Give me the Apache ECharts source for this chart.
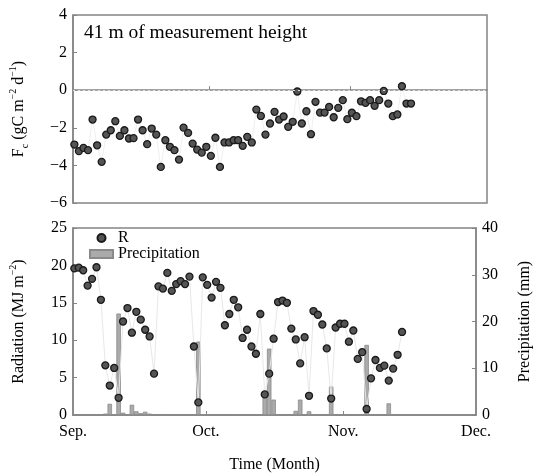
<!DOCTYPE html>
<html>
<head>
<meta charset="UTF-8">
<title>Fc, radiation and precipitation</title>
<script src="https://cdn.jsdelivr.net/npm/echarts@6/dist/echarts.min.js"></script>
<style>
  html, body { margin: 0; padding: 0; background: #fff; }
  #main { width: 541px; height: 474px; }
</style>
</head>
<body>
<div id="main"></div>
<script>
// month ticks, days counted from 1 Sep
var monthTicks = [0, 30, 61, 91];
var monthNames = ['Sep.', 'Oct.', 'Nov.', 'Dec.'];
var dayOffset = 0.3; // daily values plotted near mid-day

// CO2 flux Fc (gC m-2 d-1), daily from 1 Sep
var fc = [-2.89, -3.24, -3.07, -3.19, -1.56, -2.93, -3.81, -2.36, -2.13, -1.65,
          -2.43, -2.13, -2.57, -2.55, -1.56, -2.13, -2.87, -2.04, -2.36, -4.08,
          -2.66, -3.01, -3.19, -3.69, -1.99, -2.27, -2.84, -3.16, -3.32, -3.01,
          -3.49, -2.53, -4.08, -2.78, -2.78, -2.66, -2.66, -2.96, -2.48, -2.78,
          -1.03, -1.37, -2.36, -1.77, -1.15, -1.56, -1.40, -1.95, -1.68, -0.07,
          -1.77, -1.12, -2.34, -0.62, -1.19, -1.19, -0.89, -1.44, -0.94, -0.53,
          -1.54, -1.20, -1.38, -0.59, -0.67, -0.53, -0.83, -0.53, -0.04, -0.71,
          -1.38, -1.29, 0.21, -0.71, -0.71];

// radiation R (MJ m-2)
var radiation = [19.6, 19.7, 19.35, 17.3, 18.2, 19.75, 15.4, 6.64, 3.94, 6.29,
                 2.3, 12.5, 14.3, 11.0, 13.8, 12.75, 11.4, 10.5, 5.53, 17.2,
                 16.9, 19.0, 16.6, 17.5, 17.9, 17.5, 18.5, 9.16, 1.68, 18.4,
                 17.4, 15.7, 17.8, 17.0, 12.0, 13.5, 15.4, 14.4, 10.3, 11.4,
                 9.16, 8.19, 13.5, 2.75, 5.53, 10.2, 15.1, 15.3, 15.0, 11.55,
                 10.1, 6.9, 10.4, 2.57, 13.9, 13.4, 12.1, 8.9, 2.2, 11.7,
                 12.2, 12.2, 9.8, 11.3, 7.5, 8.4, 0.8, 4.9, 7.35, 6.3,
                 6.6, 4.6, 6.2, 8.05, 11.1];

// precipitation (mm)
var precip = [0, 0, 0, 0, 0, 0, 0, 0.3, 2.4, 0,
              21.7, 0.5, 0, 2.2, 0.8, 0.4, 0.7, 0.3, 0, 0,
              0.2, 0.15, 0, 0, 0, 0.15, 0, 0, 15.7, 0,
              0, 0, 0, 0, 0, 0, 0, 0, 0, 0,
              0, 0, 0, 4.0, 14.2, 3.3, 0, 0, 0, 0,
              0.9, 3.3, 0, 0.8, 0, 0, 0, 0, 6.1, 0,
              0, 0, 0, 0, 0, 0.2, 15.0, 0, 0, 0,
              0, 2.5, 0, 0, 0];

function toXY(arr) {
    var out = [];
    for (var i = 0; i < arr.length; i++) {
        out.push([i + dayOffset, arr[i]]);
    }
    return out;
}

var serif = 'Liberation Serif';
var axisGrey = '#858585';
var dotStyle = { color: '#555555', borderColor: '#1a1a1a', borderWidth: 1.3 };
var zeroLine = { color: '#dedede', type: [2, 3], width: 1 };
var richName = {
    sup: { fontSize: 10, fontFamily: serif, verticalAlign: 'top', lineHeight: 22 },
    sub: { fontSize: 10, fontFamily: serif, verticalAlign: 'bottom', lineHeight: 22 }
};

function monthLabel(v) {
    var k = monthTicks.indexOf(v);
    return k >= 0 ? monthNames[k] : '';
}

var myChart = echarts.init(document.getElementById('main'));

myChart.setOption({
    animation: false,
    backgroundColor: '#fff',
    textStyle: { fontFamily: serif },
    title: {
        text: '41 m of measurement height',
        left: 79, top: 18,
        textStyle: { fontFamily: serif, fontSize: 19.5, fontWeight: 'normal', color: '#000' }
    },
    legend: {
        data: [{ name: 'R', icon: 'circle' }, { name: 'Precipitation', icon: 'rect' }],
        orient: 'vertical',
        left: 89, top: 230,
        itemWidth: 23, itemHeight: 8, itemGap: 0,
        padding: 0,
        textStyle: { fontFamily: serif, fontSize: 16, color: '#000' }
    },
    grid: [
        { left: 72, right: 54, top: 15, height: 188, show: true, borderColor: axisGrey, borderWidth: 1.5 },
        { left: 72, right: 54, top: 228, height: 188, show: true, borderColor: axisGrey, borderWidth: 1.5 }
    ],
    xAxis: [
        {
            gridIndex: 0, type: 'value', min: 0, max: 91,
            axisLine: { lineStyle: { color: axisGrey, width: 1.5 } },
            axisTick: { inside: true, length: 4, customValues: [30, 61], lineStyle: { color: axisGrey } },
            axisLabel: { show: false },
            splitLine: { show: false }
        },
        {
            gridIndex: 1, type: 'value', min: 0, max: 91,
            name: 'Time (Month)', nameLocation: 'middle', nameGap: 42,
            nameTextStyle: { fontFamily: serif, fontSize: 16, color: '#000' },
            axisLine: { lineStyle: { color: axisGrey, width: 1.5 } },
            axisTick: { inside: true, length: 4, customValues: [30, 61], lineStyle: { color: axisGrey } },
            axisLabel: {
                customValues: monthTicks, formatter: monthLabel,
                fontFamily: serif, fontSize: 16, color: '#000', margin: 9
            },
            splitLine: { show: false }
        }
    ],
    yAxis: [
        {
            gridIndex: 0, type: 'value', min: -6, max: 4, interval: 2,
            name: 'F{sub|c} (gC m{sup|\u22122} d{sup|\u22121})',
            nameLocation: 'middle', nameGap: 43, nameRotate: 90,
            nameTextStyle: { fontFamily: serif, fontSize: 16, color: '#000', lineHeight: 22, rich: richName },
            axisLine: { lineStyle: { color: axisGrey, width: 1.5 } },
            axisTick: { inside: true, length: 4, lineStyle: { color: axisGrey } },
            axisLabel: {
                fontFamily: serif, fontSize: 16, color: '#000', margin: 6,
                formatter: function (v) { return v < 0 ? '\u2212' + Math.abs(v) : String(v); }
            },
            splitLine: { show: false }
        },
        {
            gridIndex: 1, type: 'value', min: 0, max: 25, interval: 5,
            name: 'Radiation (MJ m{sup|\u22122})',
            nameLocation: 'middle', nameGap: 43, nameRotate: 90,
            nameTextStyle: { fontFamily: serif, fontSize: 16, color: '#000', lineHeight: 22, rich: richName },
            axisLine: { lineStyle: { color: axisGrey, width: 1.5 } },
            axisTick: { inside: true, length: 4, lineStyle: { color: axisGrey } },
            axisLabel: { fontFamily: serif, fontSize: 16, color: '#000', margin: 6 },
            splitLine: { show: false }
        },
        {
            gridIndex: 1, type: 'value', min: 0, max: 40, interval: 10, position: 'right',
            name: 'Precipitation (mm)',
            nameLocation: 'middle', nameGap: 41, nameRotate: 90,
            nameTextStyle: { fontFamily: serif, fontSize: 16, color: '#000' },
            axisLine: { show: true, lineStyle: { color: axisGrey, width: 1.5 } },
            axisTick: { inside: true, length: 4, lineStyle: { color: axisGrey } },
            axisLabel: { fontFamily: serif, fontSize: 16, color: '#000', margin: 6 },
            splitLine: { show: false }
        }
    ],
    series: [
        {
            name: 'Fc', type: 'line', xAxisIndex: 0, yAxisIndex: 0,
            data: toXY(fc),
            symbol: 'circle', symbolSize: 7,
            lineStyle: { color: '#efefef', width: 1 },
            itemStyle: dotStyle,
            markLine: {
                silent: true, symbol: 'none', label: { show: false },
                lineStyle: zeroLine,
                emphasis: { disabled: true },
                data: [{ yAxis: 0, lineStyle: zeroLine }]
            },
            z: 3
        },
        {
            name: 'Precipitation', type: 'bar', xAxisIndex: 1, yAxisIndex: 2,
            data: toXY(precip),
            barWidth: 4.5,
            itemStyle: { color: '#ababab', borderColor: '#8a8a8a', borderWidth: 0.8 },
            z: 2
        },
        {
            name: 'R', type: 'line', xAxisIndex: 1, yAxisIndex: 1,
            data: toXY(radiation),
            symbol: 'circle', symbolSize: 7,
            lineStyle: { color: '#e8e8e8', width: 1 },
            itemStyle: dotStyle,
            z: 3
        }
    ]
});

window.onresize = function () { myChart.resize(); };
</script>
</body>
</html>
